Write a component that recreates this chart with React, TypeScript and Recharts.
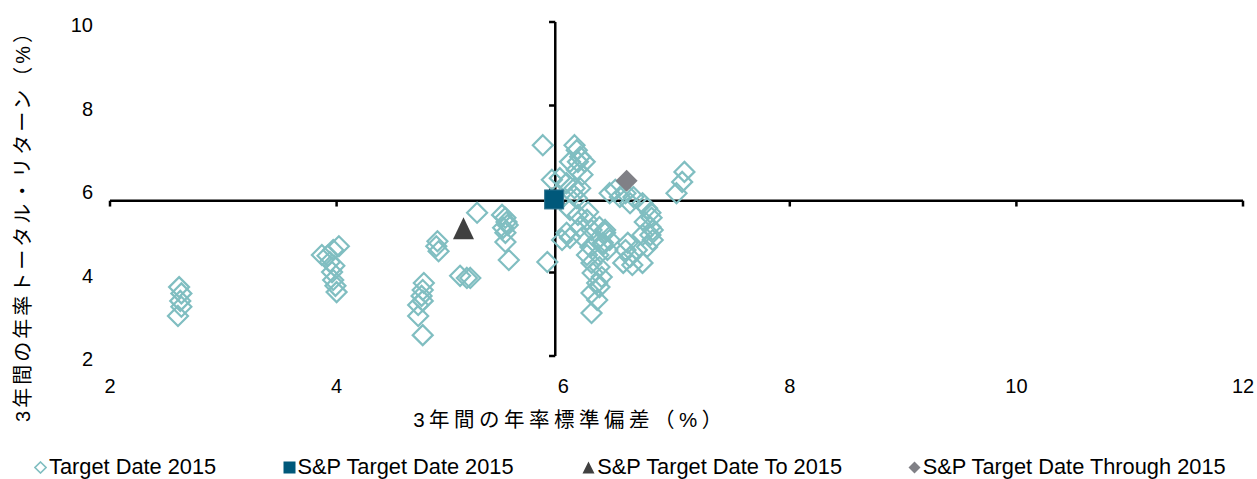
import React from 'react'
import { ScatterChart, Scatter, XAxis, YAxis, ReferenceLine, Legend } from 'recharts'

// 3年間の年率標準偏差 (x) と 年率トータル・リターン (y)
const targetDateStdDev = [
  2.61, 2.63, 2.62, 2.63, 2.60,
  3.92, 3.97, 4.02, 3.87, 3.94, 3.98, 3.96, 3.97, 3.99, 4.00,
  4.89, 4.88, 4.90, 5.24, 5.09, 5.15, 5.18,
  4.77, 4.76, 4.75, 4.76, 4.72, 4.72, 4.76,
  5.46, 5.49, 5.50, 5.51, 5.47, 5.49, 5.49, 5.52,
  5.86, 5.82,
  6.10, 6.12, 6.15, 6.06, 6.13, 6.19, 6.12, 6.17, 5.90, 5.97, 6.03, 6.10, 6.15, 6.09, 6.12,
  6.41, 6.46, 6.50, 6.55, 6.62, 6.59, 6.70, 6.74, 6.77, 6.78, 6.72, 6.77, 6.79, 6.70,
  6.77, 6.79, 6.74, 6.65, 6.57, 6.55, 6.59, 6.53, 6.61, 6.70, 6.37, 6.35, 6.39,
  7.07, 7.05, 7.00,
  6.06, 6.13, 6.22, 6.21, 6.15, 6.03, 5.99, 6.06, 6.17, 6.25, 6.32, 6.37, 6.30, 6.24,
  6.35, 6.41, 6.21, 6.31, 6.25, 6.32, 6.26, 6.34, 6.30, 6.25, 6.32, 6.30, 6.25
]
const targetDateReturn = [
  3.65, 3.50, 3.32, 3.18, 2.96,
  4.40, 4.54, 4.63, 4.42, 4.25, 4.16, 4.01, 3.82, 3.68, 3.53,
  4.75, 4.63, 4.51, 5.43, 3.92, 3.87, 3.87,
  3.75, 3.58, 3.44, 3.32, 3.22, 2.96, 2.50,
  5.38, 5.31, 5.21, 5.14, 5.07, 4.95, 4.73, 4.30,
  4.25, 7.05,
  7.05, 6.93, 6.77, 6.65, 6.65, 6.65, 6.46, 6.34, 6.22, 6.26, 6.14, 6.02, 6.02, 5.86, 5.78,
  5.90, 5.98, 5.81, 5.90, 5.81, 5.66, 5.66, 5.54, 5.43, 5.31, 5.21, 5.09, 5.02, 4.90,
  4.90, 4.78, 4.61, 4.54, 4.71, 4.54, 4.37, 4.23, 4.18, 4.23, 5.02, 4.71, 4.54,
  6.41, 6.17, 5.90,
  5.50, 5.38, 5.45, 5.26, 5.09, 4.95, 4.78, 4.83, 4.85, 5.02, 5.09, 4.95, 4.78, 4.61,
  4.66, 4.78, 4.42, 4.42, 4.23, 4.13, 3.99, 3.89, 3.75, 3.51, 3.65, 3.34, 3.03
]

const spTargetStdDev = [5.92]
const spTargetReturn = [5.75]
const spToStdDev = [5.12]
const spToReturn = [5.06]
const spThroughStdDev = [6.56]
const spThroughReturn = [6.2]

const seriesNames = [
  'Target Date 2015',
  'S&P Target Date 2015',
  'S&P Target Date To 2015',
  'S&P Target Date Through 2015'
]

const xTicks = [2, 4, 6, 8, 10, 12]
const yTicks = [2, 4, 6, 8, 10]
// 軸の交差位置 (S&P Target Date 2015)
const crossX = 5.93
const crossY = 5.72

const TEAL = '#80bec1'
const NAVY = '#00587a'
const DARK = '#404040'
const GREY = '#808086'
const LATIN = "'Liberation Sans', Arial, sans-serif"
const CJK = "'Liberation Sans', 'Noto Sans CJK JP', sans-serif"

const toPoints = (xs: number[], ys: number[]) => xs.map((x, i) => ({ x, y: ys[i] }))

const HollowDiamond = (p: any) => {
  const r = 10
  return (
    <path
      d={`M${p.cx},${p.cy - r}L${p.cx + r},${p.cy}L${p.cx},${p.cy + r}L${p.cx - r},${p.cy}Z`}
      fill="none"
      stroke={TEAL}
      strokeWidth={2.2}
    />
  )
}

const FilledSquare = (p: any) => (
  <rect x={p.cx - 9.5} y={p.cy - 9.5} width={19} height={19} fill={NAVY} stroke="#2f7590" strokeWidth={1} />
)

const FilledTriangle = (p: any) => (
  <path d={`M${p.cx},${p.cy - 11}L${p.cx + 10.5},${p.cy + 11}L${p.cx - 10.5},${p.cy + 11}Z`} fill={DARK} />
)

const FilledDiamond = (p: any) => {
  const r = 11
  return <path d={`M${p.cx},${p.cy - r}L${p.cx + r},${p.cy}L${p.cx},${p.cy + r}L${p.cx - r},${p.cy}Z`} fill={GREY} />
}

const XTick = ({ x, y, payload }: any) => (
  <text x={x} y={y} textAnchor="middle" dominantBaseline="central" fontSize={20} fontFamily={LATIN} fill="#000">
    {payload.value}
  </text>
)

const YTick = ({ x, y, payload }: any) => (
  <text x={x} y={y + 3} textAnchor="end" dominantBaseline="central" fontSize={20} fontFamily={LATIN} fill="#000">
    {payload.value}
  </text>
)

const XTitle = () => (
  <text x={570} y={419} textAnchor="middle" dominantBaseline="central" fontSize={20.5} letterSpacing={4.5} fontFamily={CJK} fill="#000">
    3年間の年率標準偏差（%）
  </text>
)

const YTitle = () => (
  <text
    x={23}
    y={221}
    transform="rotate(-90, 23, 221)"
    textAnchor="middle"
    dominantBaseline="central"
    fontSize={20}
    letterSpacing={3}
    fontFamily={CJK}
    fill="#000"
  >
    3年間の年率トータル・リターン（%）
  </text>
)

const legendIcons = [
  <svg width={13} height={13} key="a"><path d="M6.5,1L12,6.5L6.5,12L1,6.5Z" fill="none" stroke={TEAL} strokeWidth={1.6} /></svg>,
  <svg width={13} height={13} key="b"><rect x={0.5} y={0.5} width={12} height={12} fill={NAVY} /></svg>,
  <svg width={13} height={13} key="c"><path d="M6.5,0.5L12.5,12.5L0.5,12.5Z" fill={DARK} /></svg>,
  <svg width={13} height={13} key="d"><path d="M6.5,0.5L12.5,6.5L6.5,12.5L0.5,6.5Z" fill={GREY} /></svg>
]
const legendItemWidths = [252, 304, 330, 340]

const ChartLegend = () => (
  <div style={{ display: 'flex', height: 24, alignItems: 'center', paddingLeft: 34, fontFamily: LATIN, fontSize: 21.8, color: '#000' }}>
    {seriesNames.map((name, i) => (
      <div key={name} style={{ display: 'flex', alignItems: 'center', width: legendItemWidths[i], whiteSpace: 'nowrap' }}>
        {legendIcons[i]}
        <span style={{ marginLeft: 2 }}>{name}</span>
      </div>
    ))}
  </div>
)

export default function App() {
  return (
    <div style={{ width: 1257, height: 479, background: '#fff' }}>
      <style>{'body{margin:0}'}</style>
      <ScatterChart width={1257} height={479} margin={{ top: 22, right: 14, bottom: 0, left: 0 }}>
        <XAxis
          type="number"
          dataKey="x"
          domain={[2, 12]}
          ticks={xTicks}
          axisLine={false}
          tickLine={false}
          tickSize={0}
          tickMargin={30}
          height={99}
          tick={<XTick />}
          interval={0}
          label={<XTitle />}
        />
        <YAxis
          type="number"
          dataKey="y"
          domain={[2, 10]}
          ticks={yTicks}
          axisLine={false}
          tickLine={false}
          tickSize={0}
          tickMargin={17}
          width={110}
          tick={<YTick />}
          interval={0}
          label={<YTitle />}
        />
        <ReferenceLine x={crossX} stroke="#000" strokeWidth={2.5} />
        <ReferenceLine y={crossY} stroke="#000" strokeWidth={2.5} />
        {xTicks.map((t) => (
          <ReferenceLine key={`xt${t}`} segment={[{ x: t, y: crossY }, { x: t, y: crossY - 0.14 }]} stroke="#000" strokeWidth={2.5} />
        ))}
        {yTicks.map((t) => (
          <ReferenceLine key={`yt${t}`} segment={[{ x: crossX - 0.055, y: t }, { x: crossX, y: t }]} stroke="#000" strokeWidth={2.5} />
        ))}
        <Scatter name={seriesNames[0]} data={toPoints(targetDateStdDev, targetDateReturn)} shape={<HollowDiamond />} isAnimationActive={false} />
        <Scatter name={seriesNames[1]} data={toPoints(spTargetStdDev, spTargetReturn)} shape={<FilledSquare />} isAnimationActive={false} />
        <Scatter name={seriesNames[2]} data={toPoints(spToStdDev, spToReturn)} shape={<FilledTriangle />} isAnimationActive={false} />
        <Scatter name={seriesNames[3]} data={toPoints(spThroughStdDev, spThroughReturn)} shape={<FilledDiamond />} isAnimationActive={false} />
        <Legend verticalAlign="bottom" align="left" content={() => <ChartLegend />} />
      </ScatterChart>
    </div>
  )
}
